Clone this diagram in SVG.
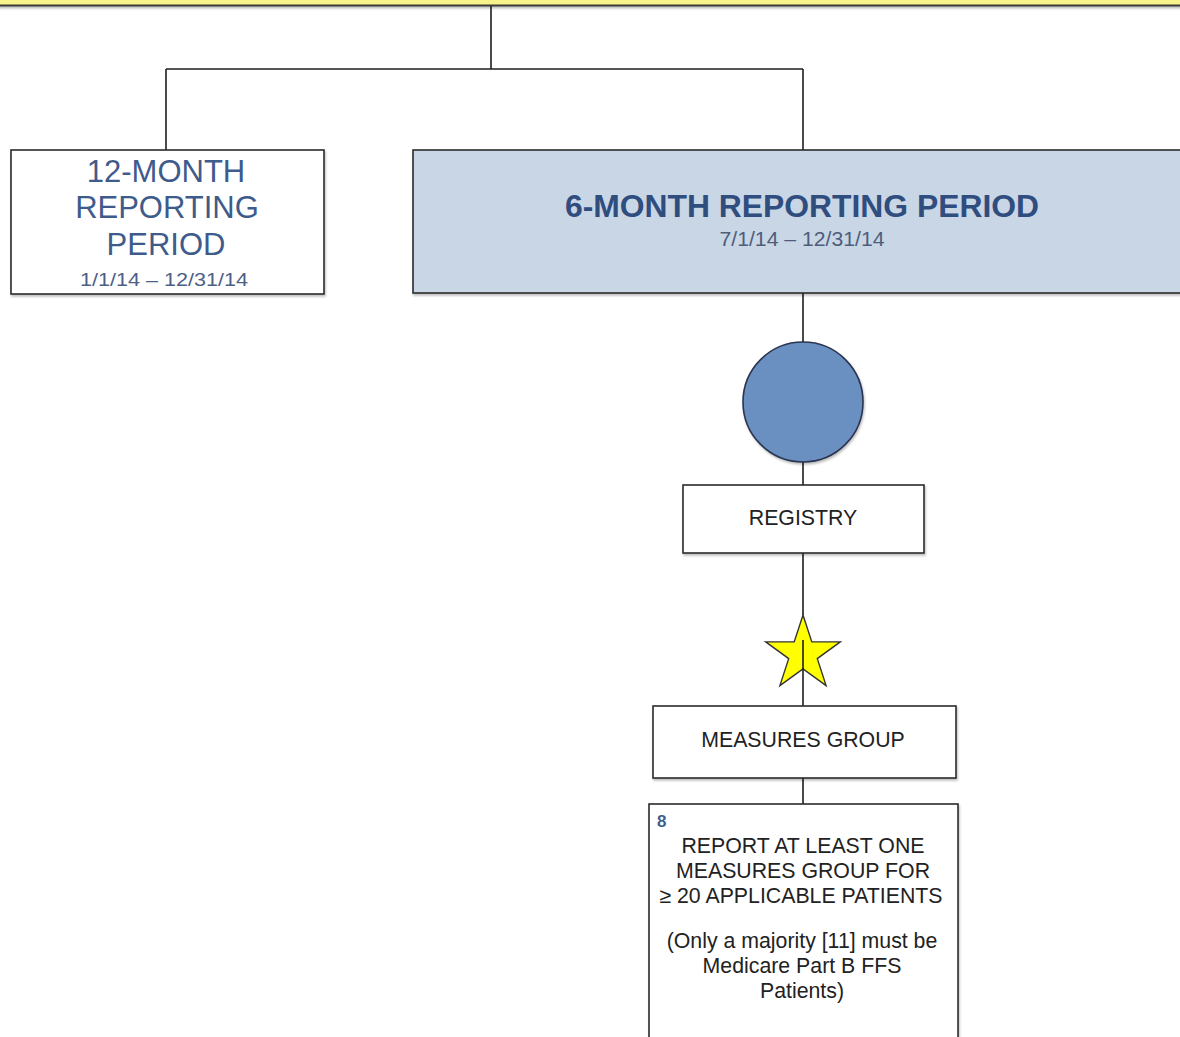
<svg xmlns="http://www.w3.org/2000/svg" width="1180" height="1037" viewBox="0 0 1180 1037">
  <defs>
    <filter id="sh" x="-5%" y="-5%" width="110%" height="115%">
      <feDropShadow dx="1" dy="2" stdDeviation="1.2" flood-color="#000" flood-opacity="0.25"/>
    </filter>
    <style>
      .box { fill: #ffffff; stroke: #2b2b2b; stroke-width: 1.6; }
      .conn { stroke: #1e1e1e; stroke-width: 1.6; fill: none; }
      .t { font-family: "Liberation Sans", Arial, sans-serif; text-anchor: middle; }
      .blk { fill: #222222; font-size: 21.3px; }
      .blue { fill: #3f5b8c; }
    </style>
  </defs>
  <rect x="0" y="0" width="1180" height="1037" fill="#ffffff"/>

  <g id="top-banner">
    <rect x="-10" y="-50" width="1200" height="55.5" fill="#f8f28a" stroke="#3a3a3a" stroke-width="2" filter="url(#sh)"/>
  </g>

  <g id="connectors">
    <path class="conn" d="M491 6 V69 M166 69 H803 M166 69 V150 M803 69 V150"/>
    <path class="conn" d="M803 293 V342 M803 462 V485 M803 553 V615 M803 778 V804"/>
  </g>

  <g id="node-12-month">
    <rect class="box" x="11" y="150" width="313" height="144" filter="url(#sh)"/>
    <text class="t blue" x="166" y="182" font-size="31">12-MONTH</text>
    <text class="t blue" x="167" y="218" font-size="31">REPORTING</text>
    <text class="t blue" x="166" y="255" font-size="31">PERIOD</text>
    <text class="t" x="164" y="286" font-size="18" fill="#4c5f86" textLength="168" lengthAdjust="spacingAndGlyphs">1/1/14 – 12/31/14</text>
  </g>

  <g id="node-6-month">
    <rect x="413" y="150" width="790" height="143" fill="#c9d6e6" stroke="#2b2b2b" stroke-width="1.6" filter="url(#sh)"/>
    <text class="t" x="802" y="217" font-size="31" font-weight="bold" fill="#2f4d7e" textLength="474" lengthAdjust="spacingAndGlyphs">6-MONTH REPORTING PERIOD</text>
    <text class="t" x="802" y="246" font-size="20" fill="#4d5d7c" textLength="165" lengthAdjust="spacingAndGlyphs">7/1/14 – 12/31/14</text>
  </g>

  <g id="node-circle">
    <circle cx="803" cy="402" r="60" fill="#6b8fc1" stroke="#2a3550" stroke-width="1.6" filter="url(#sh)"/>
  </g>

  <g id="node-registry">
    <rect class="box" x="683" y="485" width="241" height="68" filter="url(#sh)"/>
    <text class="t blk" x="803" y="525" font-size="21">REGISTRY</text>
  </g>

  <g id="node-star">
    <polygon points="803,615 811.8,641.9 840.3,641.9 817.3,658.6 826.1,685.6 803,668.9 779.9,685.6 788.7,658.6 765.7,641.9 794.2,641.9" fill="#ffff00" stroke="#333333" stroke-width="1.4"/>
    <path class="conn" d="M803 640 V706"/>
  </g>

  <g id="node-measures-group">
    <rect class="box" x="653" y="706" width="303" height="72" filter="url(#sh)"/>
    <text class="t blk" x="803" y="747" font-size="21">MEASURES GROUP</text>
  </g>

  <g id="node-report">
    <rect class="box" x="649" y="804" width="309" height="250" filter="url(#sh)"/>
    <text x="657" y="827" font-family="Liberation Sans, Arial, sans-serif" font-size="17" font-weight="bold" fill="#3d5f8f">8</text>
    <text class="t blk" x="803" y="853">REPORT AT LEAST ONE</text>
    <text class="t blk" x="803" y="878">MEASURES GROUP FOR</text>
    <text class="t blk" x="801" y="903">≥ 20 APPLICABLE PATIENTS</text>
    <text class="t blk" x="802" y="948" font-size="20.6">(Only a majority [11] must be</text>
    <text class="t blk" x="802" y="973" font-size="20.6">Medicare Part B FFS</text>
    <text class="t blk" x="802" y="998" font-size="20.6">Patients)</text>
  </g>
</svg>
